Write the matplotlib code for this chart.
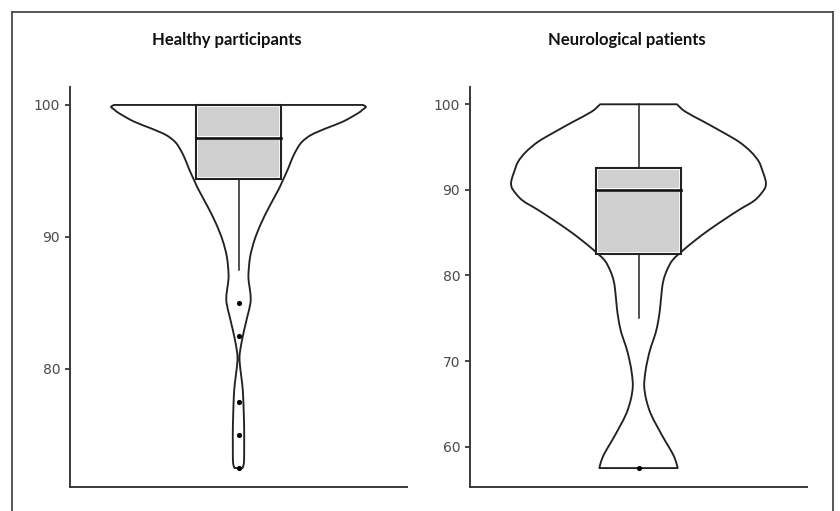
import numpy as np
import matplotlib
matplotlib.use("Agg")
import matplotlib.pyplot as plt
from matplotlib.patches import Rectangle, PathPatch
from matplotlib.path import Path
from matplotlib.lines import Line2D

plt.rcParams["font.family"] = "DejaVu Sans"

# Titles
titles = ["Healthy participants", "Neurological patients"]

# Violin outline: score level and relative half width
healthy_levels = [100.0, 99.85, 99.6, 99.37, 98.74, 98.23, 97.73, 97.22, 96.7, 95.96,
                  95.2, 94.2, 93.56, 92.3, 91.0, 89.75, 88.5, 87.2, 86.5, 85.7, 85.0,
                  84.0, 82.95, 81.9, 80.9, 79.9, 78.9, 77.9, 76.6, 75.4, 74.1, 73.1,
                  72.7, 72.5]
healthy_width = [125, 128, 124, 120, 105, 88, 73, 64, 59, 54,
                 50, 44, 40, 31, 22.5, 16, 11.7, 10, 10.5, 12, 12,
                 9, 5.7, 2.8, 1, 2, 3.7, 4.7, 5.3, 5.7, 5.7, 5.6,
                 5, 4]

patients_levels = [100.0, 99.14, 97.97, 96.8, 95.63, 94.46, 93.3, 92.1, 91.2, 90.6,
                   89.99, 88.8, 87.65, 86.5, 85.3, 84.2, 83.0, 81.8, 80.65, 79.5,
                   78.3, 76.4, 74.9, 73.25, 71.7, 70.2, 68.6, 67.05, 65.5, 63.9,
                   62.35, 60.8, 59.2, 58.2, 57.5]
patients_width = [38.3, 46.7, 65, 83, 100, 112, 120, 124, 126.5, 127,
                  125, 116, 100, 85, 70, 57.5, 45, 34, 28.5, 25,
                  23.3, 21.7, 20, 17, 12.5, 9.2, 6.7, 5.7, 7.7, 12,
                  18.7, 26, 34, 37.5, 39]

# Box plot statistics: q1, median, q3, lower whisker, upper whisker
healthy_box = [94.4, 97.5, 100.0, 87.5, 100.0]
patients_box = [82.5, 90.0, 92.5, 75.0, 100.0]
healthy_outliers = [85.0, 82.5, 77.5, 75.0, 72.5]
patients_outliers = [57.5]

healthy_ticks = [80, 90, 100]
patients_ticks = [60, 70, 80, 90, 100]

W, H = 840, 511
fig = plt.figure(figsize=(W / 100, H / 100), dpi=100)
fig.patch.set_facecolor("white")

dark = "#222222"
axis_col = "#3a3a3a"


def smooth_side(pts, verts, codes):
    # bezier curve through the read points (catmull-rom tangents)
    n = len(pts)
    for i in range(n - 1):
        p0 = pts[max(i - 1, 0)]
        p1 = pts[i]
        p2 = pts[i + 1]
        p3 = pts[min(i + 2, n - 1)]
        verts += [p1 + (p2 - p0) / 6, p2 - (p3 - p1) / 6, p2]
        codes += [Path.CURVE4] * 3


def draw_panel(ax, levels, widths, box, outliers, ticks, ylim):
    c = 0.5
    levels = np.array(levels)
    hw = np.array(widths) / max(widths) * 0.378
    left = np.column_stack([c - hw, levels])
    right = np.column_stack([c + hw, levels])[::-1]
    verts = [left[0]]
    codes = [Path.MOVETO]
    smooth_side(left, verts, codes)
    verts.append(right[0])
    codes.append(Path.LINETO)
    smooth_side(right, verts, codes)
    verts.append(left[0])
    codes.append(Path.CLOSEPOLY)
    ax.add_patch(PathPatch(Path(verts, codes), facecolor="white", edgecolor=dark,
                           linewidth=1.35, joinstyle="round", zorder=2))

    q1, med, q3, lo, hi = box
    bw = 0.125
    dx = 2.0 / 337
    dy = 2.0 * (ylim[1] - ylim[0]) / 400
    # whiskers
    ax.plot([c, c], [q3, hi], color=dark, lw=1.1, zorder=3)
    ax.plot([c, c], [lo, q1], color=dark, lw=1.1, zorder=3)
    # box: white body, grey fill inset a little on each side of the median
    ax.add_patch(Rectangle((c - bw, q1), 2 * bw, q3 - q1, facecolor="white",
                           edgecolor="none", zorder=4))
    for a, b in [(q1, med), (med, q3)]:
        ax.add_patch(Rectangle((c - bw + dx, a + dy), 2 * (bw - dx), b - a - 2 * dy,
                               facecolor="#d0d0d0", edgecolor="none", zorder=4))
    ax.add_patch(Rectangle((c - bw, q1), 2 * bw, q3 - q1, facecolor="none",
                           edgecolor=dark, lw=1.5, zorder=5))
    ax.plot([c - bw, c + bw], [med, med], color="#111111", lw=1.9, zorder=6)
    ax.scatter([c] * len(outliers), outliers, s=14, color="black", zorder=7,
               linewidths=0)

    ax.set_xlim(0, 1)
    ax.set_ylim(*ylim)
    ax.set_yticks(ticks)
    ax.set_xticks([])
    for s in ["top", "right"]:
        ax.spines[s].set_visible(False)
    for s in ["left", "bottom"]:
        ax.spines[s].set_color(axis_col)
        ax.spines[s].set_linewidth(1.4)
    ax.tick_params(axis="y", length=3.6, width=1.3, color=axis_col, pad=3.5,
                   labelsize=10, labelcolor="#4a4a4a",
                   labelfontfamily="DejaVu Sans")


ax1 = fig.add_axes([70 / W, 1 - 487 / H, 337 / W, 400 / H])
draw_panel(ax1, healthy_levels, healthy_width, healthy_box, healthy_outliers,
           healthy_ticks, (71.06, 101.36))
ax2 = fig.add_axes([470 / W, 1 - 487 / H, 337 / W, 400 / H])
draw_panel(ax2, patients_levels, patients_width, patients_box, patients_outliers,
           patients_ticks, (55.29, 102.02))

fig.text(227 / W, 1 - 40 / H, titles[0], ha="center", va="center",
         fontsize=12, fontweight="bold", family="Lato", color="#111111")
fig.text(627 / W, 1 - 40 / H, titles[1], ha="center", va="center",
         fontsize=12, fontweight="bold", family="Lato", color="#111111")

# outer frame (bottom edge is cut off in the picture)
frame = dict(color="#4a4a4a", lw=1.3, transform=fig.transFigure)
fig.add_artist(Line2D([12 / W, 12 / W], [0, 1 - 12 / H], **frame))
fig.add_artist(Line2D([12 / W, 833 / W], [1 - 12 / H, 1 - 12 / H], **frame))
fig.add_artist(Line2D([833 / W, 833 / W], [0, 1 - 12 / H], **frame))

fig.savefig("out.png", dpi=100)
